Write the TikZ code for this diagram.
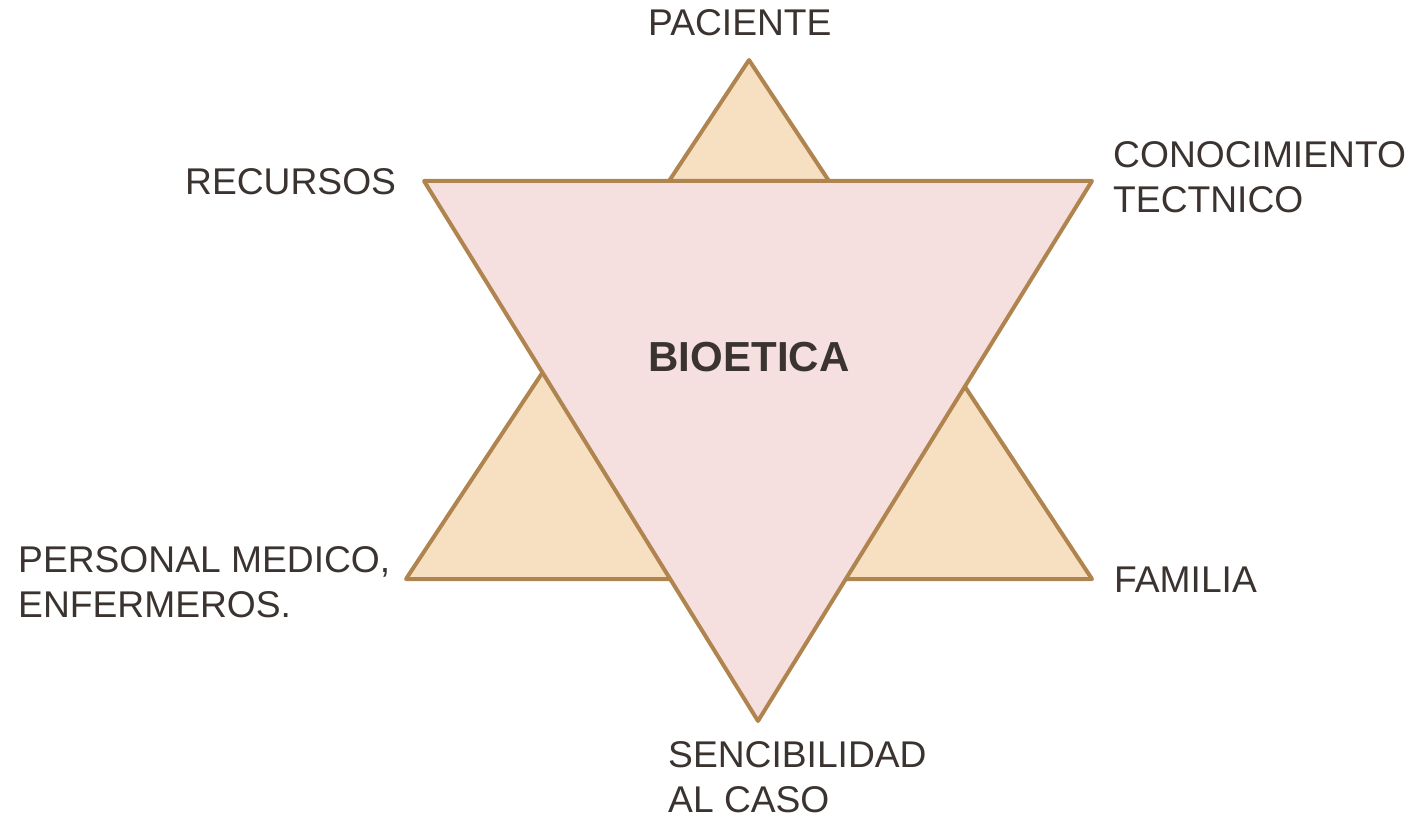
\documentclass[tikz,border=0pt]{standalone}
\usepackage{fontspec}
\setmainfont{Liberation Sans}
\definecolor{edge}{HTML}{B0844E}
\definecolor{tan}{HTML}{F7E0C2}
\definecolor{pinkish}{HTML}{F5DFDF}
\definecolor{ink}{HTML}{3A3330}
\begin{document}
\begin{tikzpicture}[x=1pt,y=-1pt,
  tri/.style={draw=edge,line width=4pt,line join=round},
  lab/.style={inner sep=0pt,anchor=base west,align=left,text=ink,font=\fontsize{37.2}{45}\selectfont},
  title/.style={inner sep=0pt,anchor=base,text=ink,font=\fontsize{42}{50}\selectfont\bfseries}]
\useasboundingbox (0,0) rectangle (1414,818);
\coordinate (uT) at (749,60);
\coordinate (uL) at (406,579);
\coordinate (uR) at (1092,579);
\coordinate (dL) at (424,181);
\coordinate (dR) at (1092,181);
\coordinate (dB) at (758,721);
\draw[tri,fill=tan] (uT) -- (uL) -- (uR) -- cycle;
\draw[tri,fill=pinkish] (dL) -- (dR) -- (dB) -- cycle;
\node[title] (bio) at (749,371) {BIOETICA};
\node[lab] (pac) at (648,36) {PACIENTE};
\node[lab] (rec) at (185,195) {RECURSOS};
\node[lab] (con) at (1113,213) {CONOCIMIENTO\\TECTNICO};
\node[lab] (per) at (18,617) {PERSONAL MEDICO,\\ENFERMEROS.};
\node[lab] (fam) at (1114,592) {FAMILIA};
\node[lab] (sen) at (668,812) {SENCIBILIDAD\\AL CASO};
\end{tikzpicture}
\end{document}
